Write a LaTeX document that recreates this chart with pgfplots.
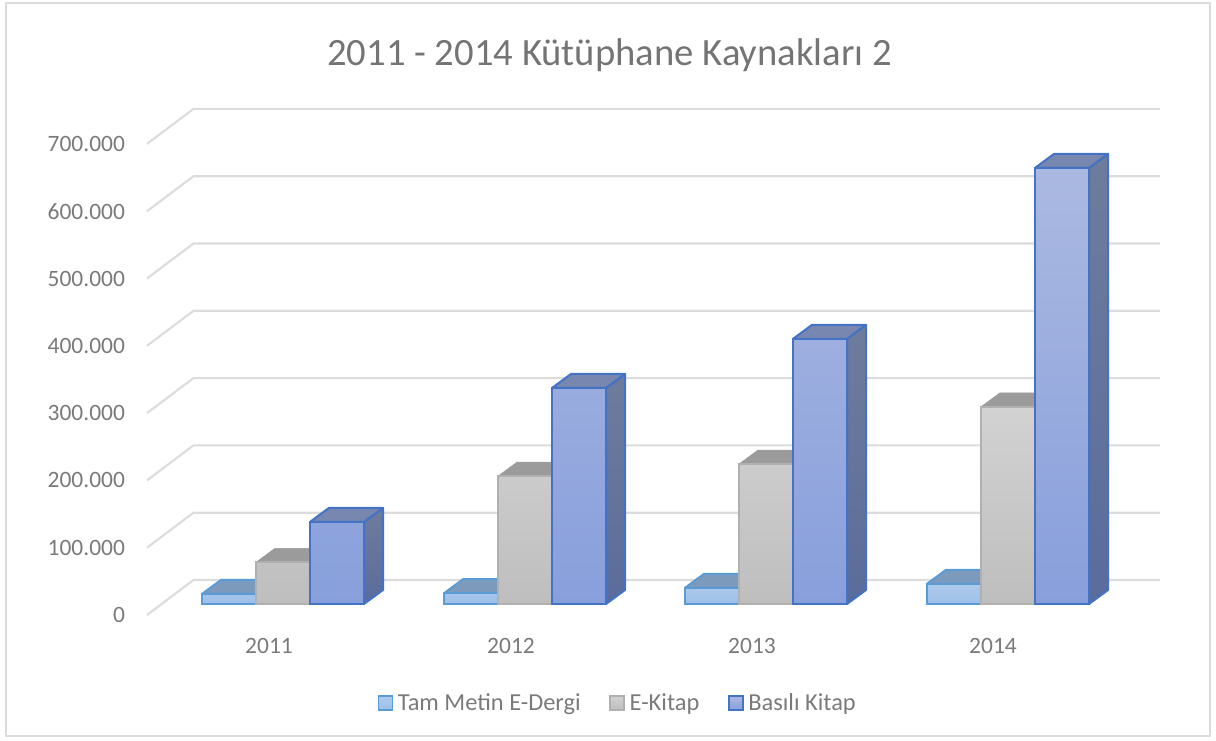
\documentclass[border=0pt]{standalone}
\usepackage{pgfplots}
\pgfplotsset{compat=1.18}
\usepackage{fontspec}
\setmainfont{Carlito}
\definecolor{txt}{HTML}{7A7A7A}
\definecolor{ttl}{HTML}{747474}
\definecolor{grd}{HTML}{DCDCDC}
\definecolor{tb}{HTML}{5B9BD5}
\definecolor{tt}{HTML}{AECBEC}
\definecolor{tm}{HTML}{9CBFE8}
\definecolor{ttop}{HTML}{7C9BBC}
\definecolor{eb}{HTML}{B0B0B0}
\definecolor{et}{HTML}{D2D2D2}
\definecolor{em}{HTML}{BEBEBE}
\definecolor{etop}{HTML}{9B9B9B}
\definecolor{bb}{HTML}{4472C4}
\definecolor{bt}{HTML}{ABB9E1}
\definecolor{bm}{HTML}{889FDC}
\definecolor{btop}{HTML}{7787AF}
\definecolor{bst}{HTML}{6E7C9C}
\definecolor{bsm}{HTML}{5A6C9C}
\pgfplotsset{
  face/.style={forget plot, mark=none, line join=round},
  grl/.style={face, grd, line width=1.6pt},
  swatch/.style={legend image code/.code={\draw[line width=1.2pt,##1] (0pt,-5.2pt) rectangle (10.5pt,5.2pt);}},
}
\begin{document}
\begin{tikzpicture}
\useasboundingbox (-110.25pt,-86.25pt) rectangle (801.75pt,468.75pt);
\draw[grd,line width=1.5pt] (-105.75pt,-83.25pt) rectangle (797.25pt,466.5pt);
\begin{axis}[
  at={(0pt,0pt)}, anchor=south west, scale only axis,
  width=759.75pt, height=393.75pt,
  xmin=147, xmax=1160, ymin=-31204, ymax=748900,
  clip=false,
  axis line style={draw=none},
  major tick length=0pt,
  scaled y ticks=false,
  xtick={269,511,752,993},
  xticklabels={2011,2012,2013,2014},
  ytick={-16344,83656,183656,283656,383656,483656,583656,683656},
  yticklabels={0,100.000,200.000,300.000,400.000,500.000,600.000,700.000},
  tick label style={font=\fontsize{17.6pt}{20pt}\selectfont, text=txt},
  yticklabel style={anchor=east},
  xticklabel style={anchor=north},
  ytick style={draw=none}, xtick style={draw=none},
  xtick pos=bottom, ytick pos=left,
  legend columns=3,
  legend style={at={(axis cs:618,-147104)}, anchor=center, draw=none, fill=none,
    font=\fontsize{18.3pt}{20pt}\selectfont, text=txt,
    /tikz/every even column/.append style={column sep=19.5pt},
    /tikz/every odd column/.append style={column sep=1.5pt},
    inner sep=0pt, cells={anchor=west}},
]
\pgfplotsset{every x tick label/.append style={yshift=-6.5pt}, every y tick label/.append style={xshift=-13pt}}
% grid
\addplot[grl] coordinates {(147,-16344)(193.5,35662)(1160,35662)};
\addplot[grl] coordinates {(147,83656)(193.5,135662)(1160,135662)};
\addplot[grl] coordinates {(147,183656)(193.5,235662)(1160,235662)};
\addplot[grl] coordinates {(147,283656)(193.5,335662)(1160,335662)};
\addplot[grl] coordinates {(147,383656)(193.5,435662)(1160,435662)};
\addplot[grl] coordinates {(147,483656)(193.5,535662)(1160,535662)};
\addplot[grl] coordinates {(147,583656)(193.5,635662)(1160,635662)};
\addplot[grl] coordinates {(147,683656)(193.5,735662)(1160,735662)};
% Tam Metin tops
\addplot[face,draw=tb,fill=ttop,line width=1.5pt] coordinates {(202,15000)(256,15000)(275,35800)(221,35800)} --cycle;
\addplot[face,draw=tb,fill=ttop,line width=1.5pt] coordinates {(444,16000)(498,16000)(517,36800)(463,36800)} --cycle;
\addplot[face,draw=tb,fill=ttop,line width=1.5pt] coordinates {(685,24000)(739,24000)(758,44800)(704,44800)} --cycle;
\addplot[face,draw=tb,fill=ttop,line width=1.5pt] coordinates {(927,30000)(981,30000)(1000,50800)(946,50800)} --cycle;
% Tam Metin fronts
\addplot[ybar,bar shift=0pt,bar width=40.5pt,draw=tb,line width=1.6pt,top color=tt,bottom color=tm,swatch]
  coordinates {(229,15000)(471,16000)(712,24000)(954,30000)};
% E-Kitap tops
\addplot[face,draw=etop,fill=etop] coordinates {(256,62000)(310,62000)(329,82800)(275,82800)} --cycle;
\addplot[face,draw=etop,fill=etop] coordinates {(498,190000)(552,190000)(571,210800)(517,210800)} --cycle;
\addplot[face,draw=etop,fill=etop] coordinates {(739,208000)(793,208000)(812,228800)(758,228800)} --cycle;
\addplot[face,draw=etop,fill=etop] coordinates {(981,293000)(1035,293000)(1054,313800)(1000,313800)} --cycle;
% E-Kitap fronts
\addplot[ybar,bar shift=0pt,bar width=40.5pt,draw=eb,line width=1.3pt,top color=et,bottom color=em,swatch]
  coordinates {(283,62000)(525,190000)(766,208000)(1008,293000)};
% Basili sides
\addplot[face,draw=bb,line width=1.5pt,top color=bst,bottom color=bsm] coordinates {(364,0)(383,20800)(383,142800)(364,122000)} --cycle;
\addplot[face,draw=bb,line width=1.5pt,top color=bst,bottom color=bsm] coordinates {(606,0)(625,20800)(625,341800)(606,321000)} --cycle;
\addplot[face,draw=bb,line width=1.5pt,top color=bst,bottom color=bsm] coordinates {(847,0)(866,20800)(866,414800)(847,394000)} --cycle;
\addplot[face,draw=bb,line width=1.5pt,top color=bst,bottom color=bsm] coordinates {(1089,0)(1108,20800)(1108,668800)(1089,648000)} --cycle;
% Basili tops
\addplot[face,draw=bb,fill=btop,line width=1.5pt] coordinates {(310,122000)(364,122000)(383,142800)(329,142800)} --cycle;
\addplot[face,draw=bb,fill=btop,line width=1.5pt] coordinates {(552,321000)(606,321000)(625,341800)(571,341800)} --cycle;
\addplot[face,draw=bb,fill=btop,line width=1.5pt] coordinates {(793,394000)(847,394000)(866,414800)(812,414800)} --cycle;
\addplot[face,draw=bb,fill=btop,line width=1.5pt] coordinates {(1035,648000)(1089,648000)(1108,668800)(1054,668800)} --cycle;
% Basili fronts
\addplot[ybar,bar shift=0pt,bar width=40.5pt,draw=bb,line width=1.9pt,top color=bt,bottom color=bm,swatch]
  coordinates {(337,122000)(579,321000)(820,394000)(1062,648000)};
\legend{Tam Metin E-Dergi,E-Kitap,Basılı Kitap}
\node[text=ttl,font=\fontsize{29pt}{34pt}\selectfont] at (axis cs:609.5,816000) {2011 - 2014 Kütüphane Kaynakları 2};
\end{axis}
\end{tikzpicture}
\end{document}
